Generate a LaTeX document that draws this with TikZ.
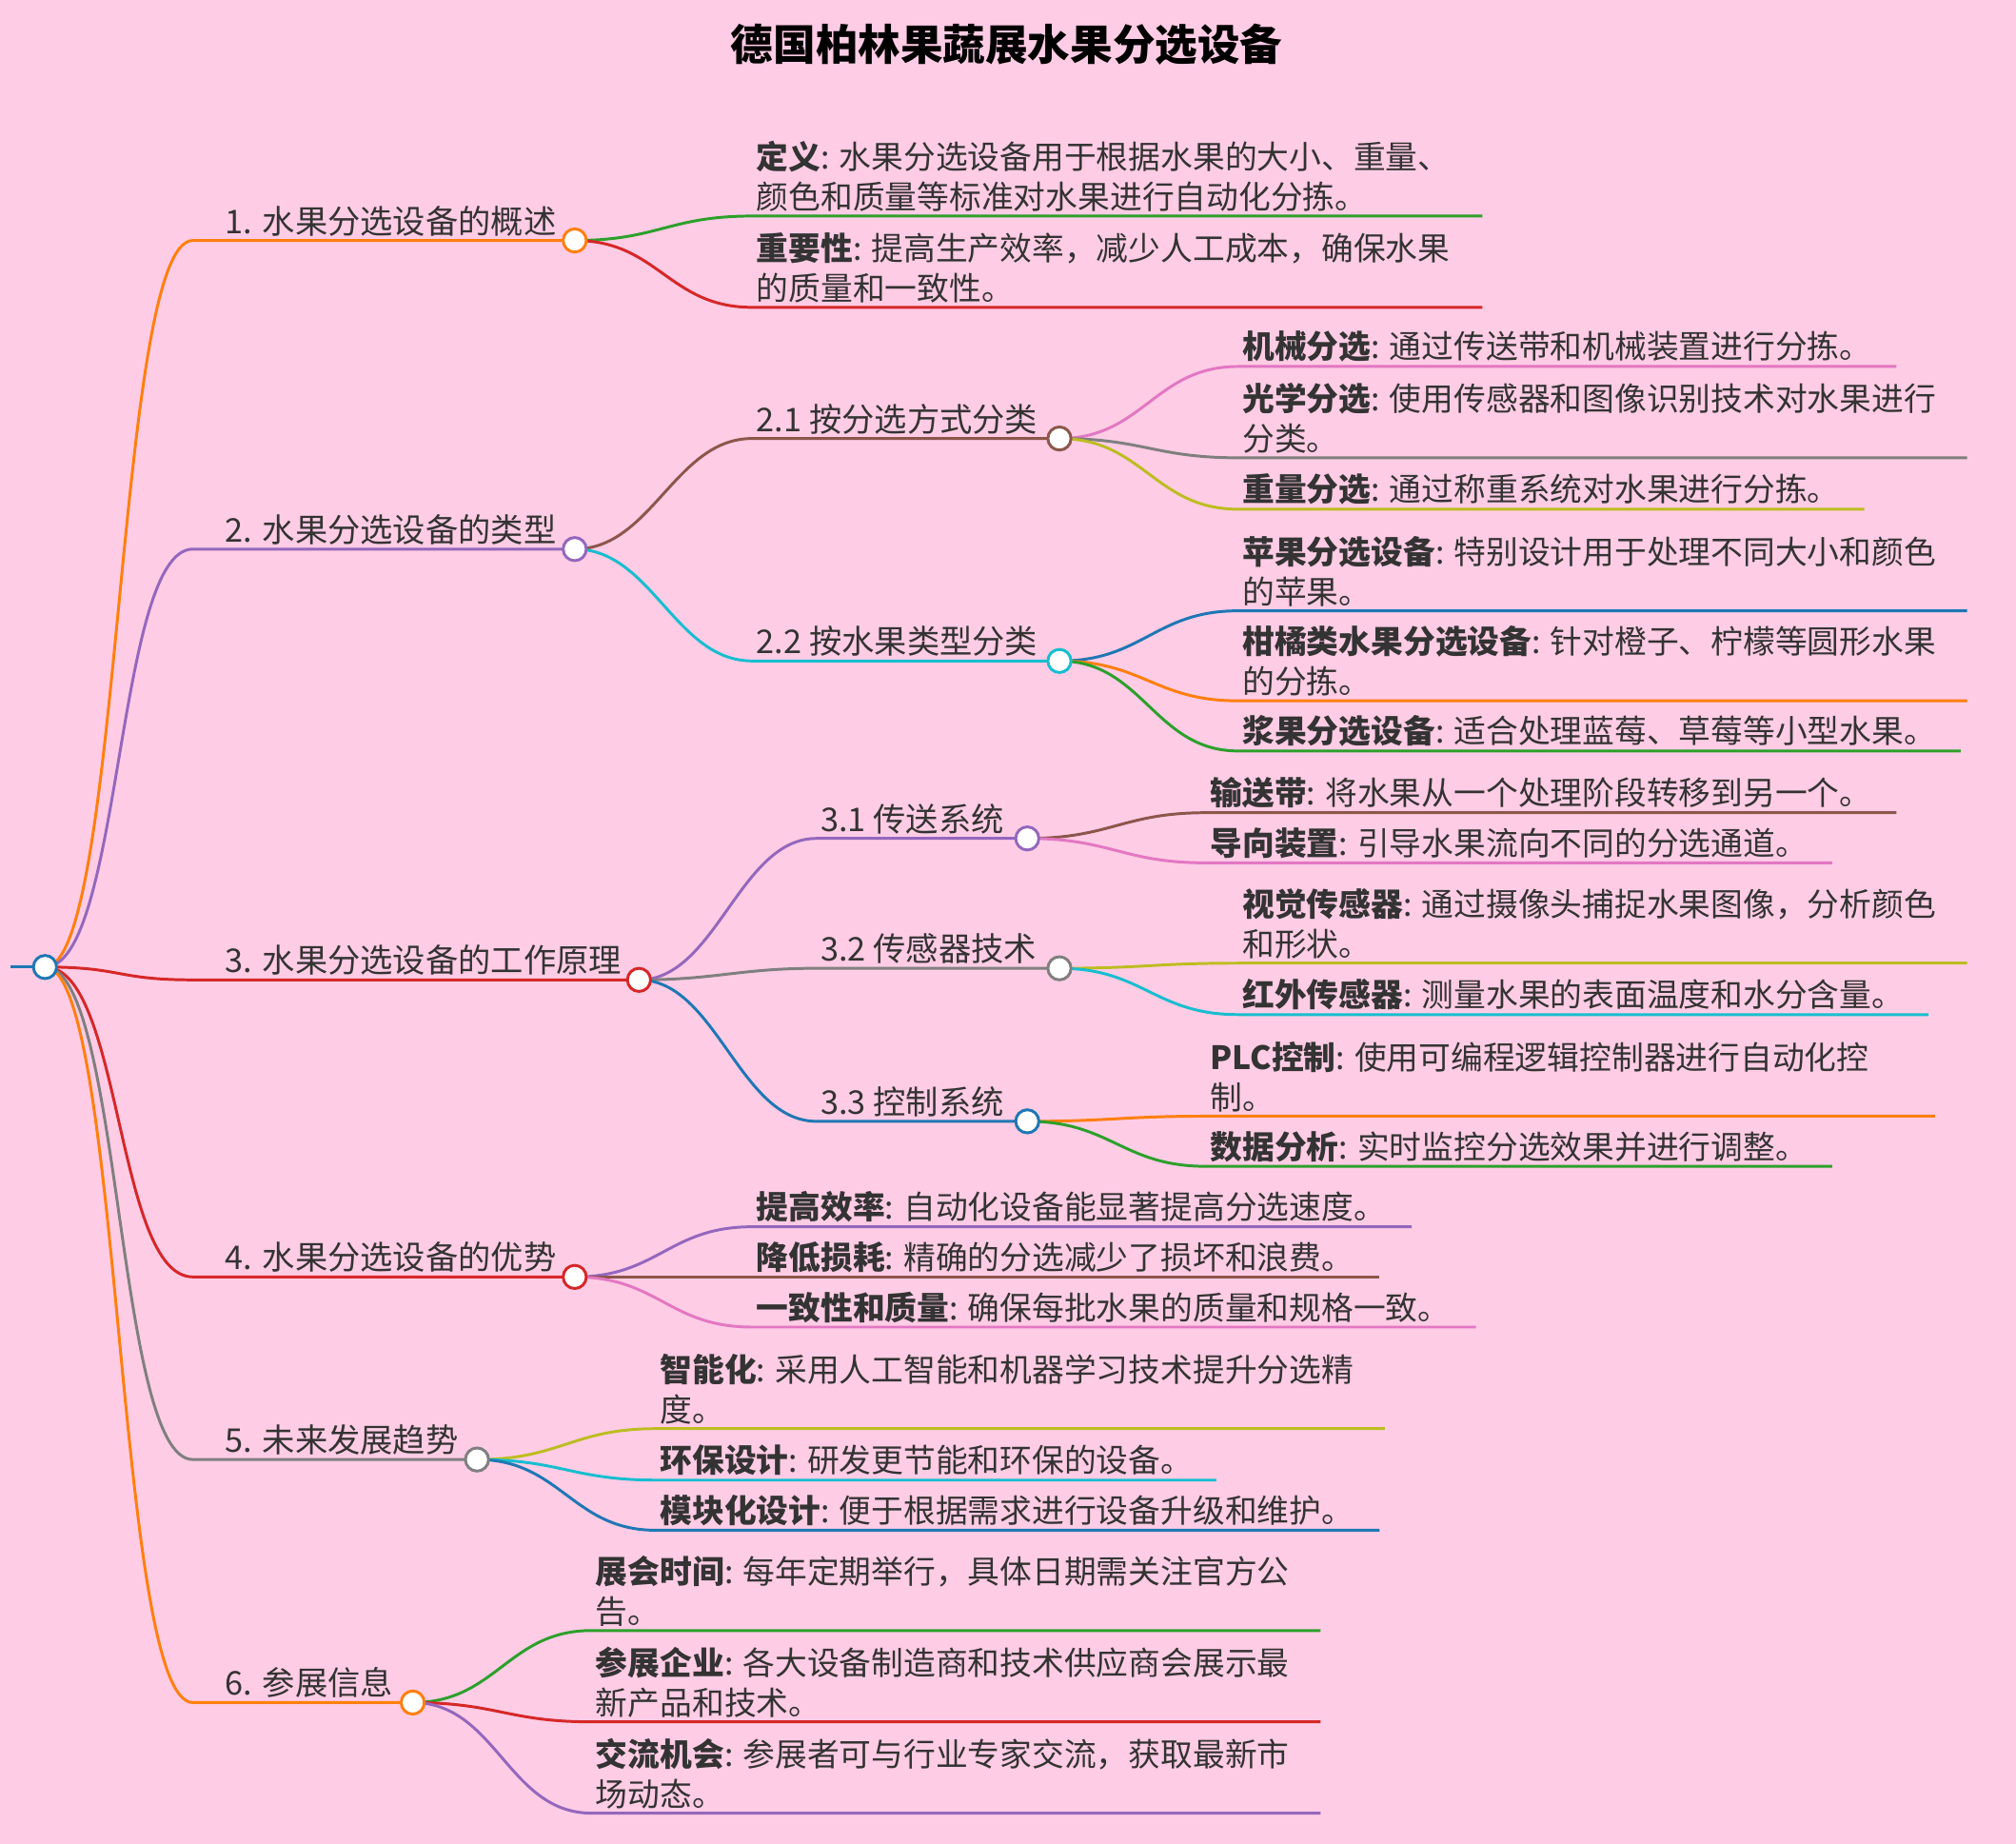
\documentclass[tikz,border=0pt]{standalone}
\usepackage{fontspec}
\setmainfont{Noto Sans CJK SC}
\definecolor{bg}{HTML}{FFCCE5}
\definecolor{cO}{HTML}{FF7F0E}\definecolor{cP}{HTML}{9467BD}
\definecolor{cR}{HTML}{D62728}\definecolor{cG}{HTML}{7F7F7F}
\definecolor{cB}{HTML}{8C564B}\definecolor{cC}{HTML}{17BECF}
\definecolor{cK}{HTML}{E377C2}\definecolor{cY}{HTML}{BCBD22}
\definecolor{cU}{HTML}{1F77B4}\definecolor{cN}{HTML}{2CA02C}
\definecolor{ink}{HTML}{333333}
% leaf: name, parent, colour, x, y, x end, text
\newcommand\leaf[7]{%
  \coordinate (#1s) at (#4,#5); \coordinate (#1e) at (#6,#5);
  \draw[wire,#3] (#2) .. controls +(65,0) and +(-65,0) .. (#1s) -- (#1e);
  \node[leaftext] (#1) at (#1s) {#7};}
% branch: name, parent, colour, x start, x dot, y, text, text shift
\newcommand\branch[8]{%
  \coordinate (#1s) at (#4,#6); \coordinate (#1) at (#5,#6);
  \draw[wire,#3] (#2) .. controls +(60,0) and +(-60,0) .. (#1s) -- (#1);
  \node[midtext] (#1t) at ([xshift=#8]#1s) {#7};}
\begin{document}
\begin{tikzpicture}[x=0.5pt, y=-0.5pt,
    wire/.style={line width=1.1pt},
    leaftext/.style={anchor=south west, align=left, inner sep=1.5pt,
      font=\fontsize{12.5}{15.5}\selectfont, text=ink},
    midtext/.style={anchor=south west, inner sep=1.5pt,
      font=\fontsize{12.7}{15}\selectfont, text=ink},
    dot/.style={circle, draw=#1, fill=white, line width=1.1pt,
      minimum size=9pt, inner sep=0pt},
    ]
\fill[bg] (0,0) rectangle (1568,1434);
\node[font=\fontsize{16.5}{19}\selectfont\bfseries] (title) at (783,35) {德国柏林果蔬展水果分选设备};
% -------------------------------------------------
\coordinate (root) at (35,752);
\draw[wire,cU] (8,752) -- (root);
\branch{a1}{root}{cO}{150}{447}{187}{1. 水果分选设备的概述}{11pt}
\branch{a2}{root}{cP}{150}{447}{427}{2. 水果分选设备的类型}{11pt}
\branch{a3}{root}{cR}{150}{497}{762}{3. 水果分选设备的工作原理}{11pt}
\branch{a4}{root}{cR}{150}{447}{993}{4. 水果分选设备的优势}{11pt}
\branch{a5}{root}{cG}{150}{371}{1135}{5. 未来发展趋势}{11pt}
\branch{a6}{root}{cO}{150}{321}{1324}{6. 参展信息}{11pt}
% -------------------------------------------------
\leaf{l11}{a1}{cN}{585}{168}{1153}{\textbf{定义}: 水果分选设备用于根据水果的大小、重量、\\颜色和质量等标准对水果进行自动化分拣。}
\leaf{l12}{a1}{cR}{585}{239}{1153}{\textbf{重要性}: 提高生产效率，减少人工成本，确保水果\\的质量和一致性。}
\branch{b21}{a2}{cB}{585}{824}{341}{2.1 按分选方式分类}{0pt}
\branch{b22}{a2}{cC}{585}{824}{514}{2.2 按水果类型分类}{0pt}
\leaf{l211}{b21}{cK}{963}{285}{1475}{\textbf{机械分选}: 通过传送带和机械装置进行分拣。}
\leaf{l212}{b21}{cG}{963}{356}{1530}{\textbf{光学分选}: 使用传感器和图像识别技术对水果进行\\分类。}
\leaf{l213}{b21}{cY}{963}{396}{1450}{\textbf{重量分选}: 通过称重系统对水果进行分拣。}
\leaf{l221}{b22}{cU}{963}{475}{1530}{\textbf{苹果分选设备}: 特别设计用于处理不同大小和颜色\\的苹果。}
\leaf{l222}{b22}{cO}{963}{545}{1530}{\textbf{柑橘类水果分选设备}: 针对橙子、柠檬等圆形水果\\的分拣。}
\leaf{l223}{b22}{cN}{963}{584}{1525}{\textbf{浆果分选设备}: 适合处理蓝莓、草莓等小型水果。}
\branch{b31}{a3}{cP}{635}{799}{652}{3.1 传送系统}{0pt}
\branch{b32}{a3}{cG}{635}{824}{753}{3.2 传感器技术}{0pt}
\branch{b33}{a3}{cU}{635}{799}{872}{3.3 控制系统}{0pt}
\leaf{l311}{b31}{cB}{938}{632}{1475}{\textbf{输送带}: 将水果从一个处理阶段转移到另一个。}
\leaf{l312}{b31}{cK}{938}{671}{1425}{\textbf{导向装置}: 引导水果流向不同的分选通道。}
\leaf{l321}{b32}{cY}{963}{749}{1530}{\textbf{视觉传感器}: 通过摄像头捕捉水果图像，分析颜色\\和形状。}
\leaf{l322}{b32}{cC}{963}{789}{1500}{\textbf{红外传感器}: 测量水果的表面温度和水分含量。}
\leaf{l331}{b33}{cO}{938}{868}{1505}{\textbf{PLC控制}: 使用可编程逻辑控制器进行自动化控\\制。}
\leaf{l332}{b33}{cN}{938}{907}{1425}{\textbf{数据分析}: 实时监控分选效果并进行调整。}
\leaf{l41}{a4}{cP}{585}{954}{1098}{\textbf{提高效率}: 自动化设备能显著提高分选速度。}
\leaf{l42}{a4}{cB}{585}{993}{1073}{\textbf{降低损耗}: 精确的分选减少了损坏和浪费。}
\leaf{l43}{a4}{cK}{585}{1032}{1148}{\textbf{一致性和质量}: 确保每批水果的质量和规格一致。}
\leaf{l51}{a5}{cY}{510}{1111}{1077}{\textbf{智能化}: 采用人工智能和机器学习技术提升分选精\\度。}
\leaf{l52}{a5}{cC}{510}{1151}{946}{\textbf{环保设计}: 研发更节能和环保的设备。}
\leaf{l53}{a5}{cU}{510}{1190}{1073}{\textbf{模块化设计}: 便于根据需求进行设备升级和维护。}
\leaf{l61}{a6}{cN}{460}{1268}{1027}{\textbf{展会时间}: 每年定期举行，具体日期需关注官方公\\告。}
\leaf{l62}{a6}{cR}{460}{1339}{1027}{\textbf{参展企业}: 各大设备制造商和技术供应商会展示最\\新产品和技术。}
\leaf{l63}{a6}{cP}{460}{1410}{1027}{\textbf{交流机会}: 参展者可与行业专家交流，获取最新市\\场动态。}
% -------------------------------------------------
\foreach \n/\c in {root/cU, a1/cO, a2/cP, a3/cR, a4/cR, a5/cG, a6/cO,
  b21/cB, b22/cC, b31/cP, b32/cG, b33/cU}
  \node[dot=\c] at (\n) {};
\end{tikzpicture}
\end{document}
